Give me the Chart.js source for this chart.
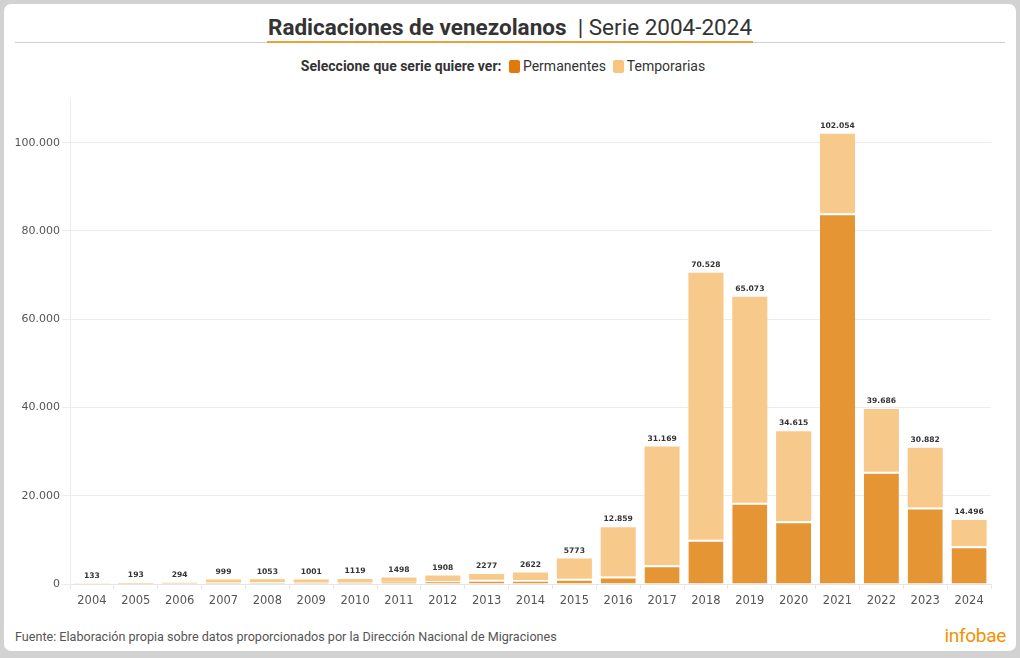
<!DOCTYPE html>
<html>
<head>
<meta charset="utf-8">
<script src="https://cdn.jsdelivr.net/npm/chart.js@4.4.1/dist/chart.umd.min.js"></script>
<style>
  html, body { margin:0; padding:0; width:1020px; height:658px; background:#d2d2d2; overflow:hidden; }
  #card { position:absolute; left:4px; top:4px; width:1012px; height:647px; background:#fff; border-radius:7px; }
  #rule { position:absolute; left:15px; top:42px; width:990px; height:1px; background:#cfcfcf; }
  #title { position:absolute; left:0; top:14px; width:1020px; text-align:center; font-family:Roboto, sans-serif; font-size:22.5px; color:#333; line-height:27px; }
  #title span.t { display:inline-block; border-bottom:2.5px solid #e8a238; padding:0 1px 0 1px; }
  #title b { font-weight:700; }
  #legend { position:absolute; left:-7px; top:58px; width:1020px; text-align:center; font-family:Roboto, sans-serif; font-size:14px; color:#333; }
  #legend b { font-weight:700; margin-right:4px; }
  .sw { display:inline-block; width:11px; height:13px; border-radius:2px; vertical-align:-2px; margin-right:3px; }
  #footer { position:absolute; left:15px; top:629px; font-family:Roboto, sans-serif; font-size:12.6px; color:#555; }
  #brand { position:absolute; right:14px; top:624px; font-family:Roboto, sans-serif; font-size:19px; color:#f39200; letter-spacing:-0.3px; }
  #wrap { position:absolute; left:0; top:90px; width:1020px; height:528px; }
</style>
</head>
<body>
<div id="card"></div>
<div id="rule"></div>
<div id="title"><span class="t"><b>Radicaciones de venezolanos</b>&nbsp; | Serie 2004-2024</span></div>
<div id="legend"><b>Seleccione que serie quiere ver:</b> <span class="sw" style="background:#e07b0b"></span>Permanentes&nbsp; <span class="sw" style="background:#f9c47e"></span>Temporarias</div>
<div id="wrap"><canvas id="c" width="1020" height="528"></canvas></div>
<div id="footer">Fuente: Elaboración propia sobre datos proporcionados por la Dirección Nacional de Migraciones</div>
<div id="brand">infobae</div>
<script>
const years = ["2004","2005","2006","2007","2008","2009","2010","2011","2012","2013","2014","2015","2016","2017","2018","2019","2020","2021","2022","2023","2024"];
const permanentes = [40,60,100,320,380,420,470,520,700,950,900,1200,1700,4250,10050,18400,14200,84000,25450,17350,8550];
const temporarias = [93,133,194,679,673,581,649,978,1208,1327,1722,4573,11159,26919,60478,46673,20415,18054,14236,13532,5946];
const totalLabels = ["133","193","294","999","1053","1001","1119","1498","1908","2277","2622","5773","12.859","31.169","70.528","65.073","34.615","102.054","39.686","30.882","14.496"];
const yTickLabels = {0:"0",20000:"20.000",40000:"40.000",60000:"60.000",80000:"80.000",100000:"100.000"};

const totalsPlugin = {
  id: 'totals',
  afterDatasetsDraw(chart) {
    const ctx = chart.ctx;
    const meta = chart.getDatasetMeta(1);
    ctx.save();
    ctx.font = 'bold 7.6px "DejaVu Sans"';
    ctx.fillStyle = '#333';
    ctx.textAlign = 'center';
    ctx.textBaseline = 'bottom';
    meta.data.forEach((bar, i) => {
      ctx.fillText(totalLabels[i], bar.x, bar.y - 4);
    });
    ctx.restore();
  }
};

new Chart(document.getElementById('c'), {
  type: 'bar',
  data: {
    labels: years,
    datasets: [
      { label: 'Permanentes', data: permanentes, backgroundColor: '#e69534', borderColor: '#ffffff', borderWidth: {top:2, left:0, right:0, bottom:0}, borderSkipped: false },
      { label: 'Temporarias', data: temporarias, backgroundColor: '#f7ca8b', borderColor: '#ffffff', borderWidth: 0 }
    ]
  },
  options: {
    responsive: false,
    animation: false,
    layout: { padding: { top: 5, right: 29, left: 0, bottom: 0 } },
    plugins: { legend: { display: false }, tooltip: { enabled: false } },
    datasets: { bar: { barPercentage: 1.0, categoryPercentage: 0.8 } },
    scales: {
      x: {
        stacked: true,
        afterFit(s) { s.height = 34; },
        grid: { drawOnChartArea: false, drawTicks: true, tickLength: 5, color: '#e6e6e6', offset: true },
        border: { color: '#e6e6e6' },
        ticks: { color: '#555', font: { family: 'DejaVu Sans', size: 11.5 }, padding: 5, maxRotation: 0, autoSkip: false }
      },
      y: {
        stacked: true,
        min: 0, max: 110000,
        afterFit(s) { s.width = 70; },
        afterBuildTicks(s) { s.ticks = [0,20000,40000,60000,80000,100000].map(v => ({value: v})); },
        grid: { color: '#ececec', tickLength: 8 },
        border: { color: '#ececec' },
        ticks: { color: '#555', font: { family: 'DejaVu Sans', size: 11 }, padding: 2, callback: v => yTickLabels[v] }
      }
    }
  },
  plugins: [totalsPlugin]
});
</script>
</body>
</html>
